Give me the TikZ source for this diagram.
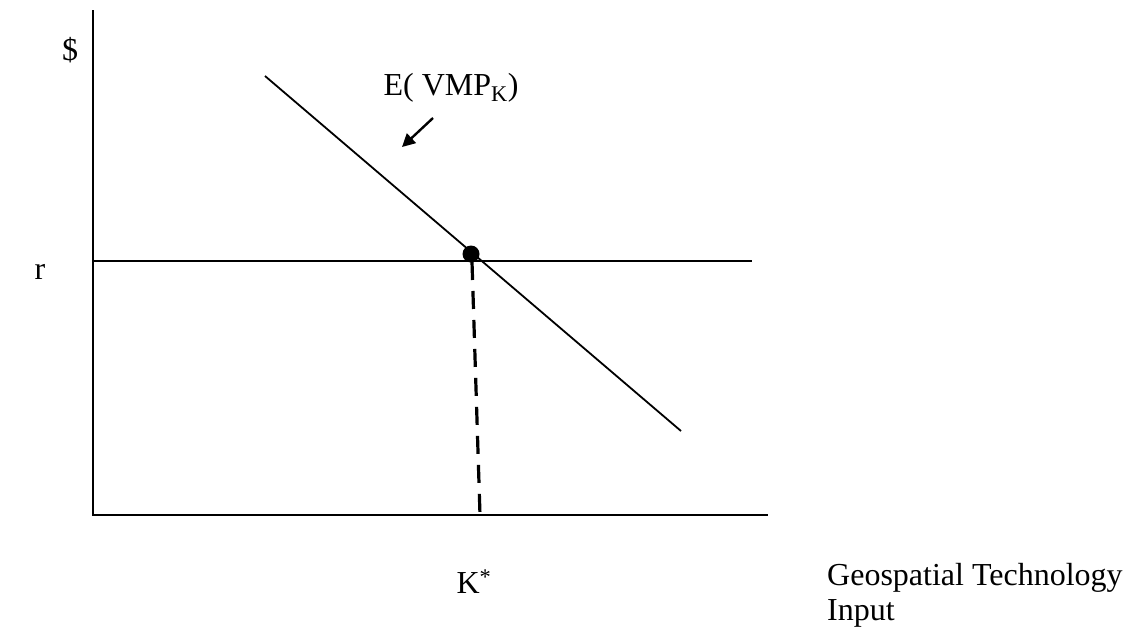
\documentclass[tikz,border=0pt]{standalone}
\usepackage{fontspec}
\setmainfont{Liberation Serif}
\usetikzlibrary{arrows.meta}
\begin{document}
\begin{tikzpicture}[x=1pt,y=-1pt,
  lbl/.style={inner sep=0pt,font=\fontsize{32}{35}\selectfont},
  axisline/.style={line width=2pt},
  curve/.style={line width=1.8pt}]
\useasboundingbox (0,0) rectangle (1134,627);
\coordinate (ytop) at (93,10);
\coordinate (origin) at (93,515);
\coordinate (xend) at (768,515);
\coordinate (rstart) at (93,261);
\coordinate (rend) at (752,261);
\coordinate (dstart) at (265,76);
\coordinate (dend) at (681,431);
\coordinate (kbot) at (480,515);
\draw[axisline] (ytop) -- (origin) -- (xend);
\draw[curve] (rstart) -- (rend);
\draw[curve] (dstart) -- (dend);
\node[circle,fill=black,minimum size=17pt,inner sep=0pt] (eq) at (471,254) {};
\draw[line width=3.2pt,dash pattern=on 18pt off 11pt] (eq.center) ++(1,8) -- (kbot);
\node[lbl] (dollar) at (70,50) {\$};
\node[lbl] (r) at (40,272) {r};
\node[lbl] (kstar) at (474,582) {K\textsuperscript{*}};
\node[lbl] (evmp) at (451,88) {E( VMP\textsubscript{K})};
\coordinate (arrfrom) at (433,118);
\coordinate (arrto) at (402,147);
\draw[line width=2.4pt,-{Triangle[length=13pt,width=13pt]}] (arrfrom) -- (arrto);
\node[lbl,anchor=west,align=left] (gti) at (827,595) {Geospatial Technology\\Input};
\end{tikzpicture}
\end{document}
